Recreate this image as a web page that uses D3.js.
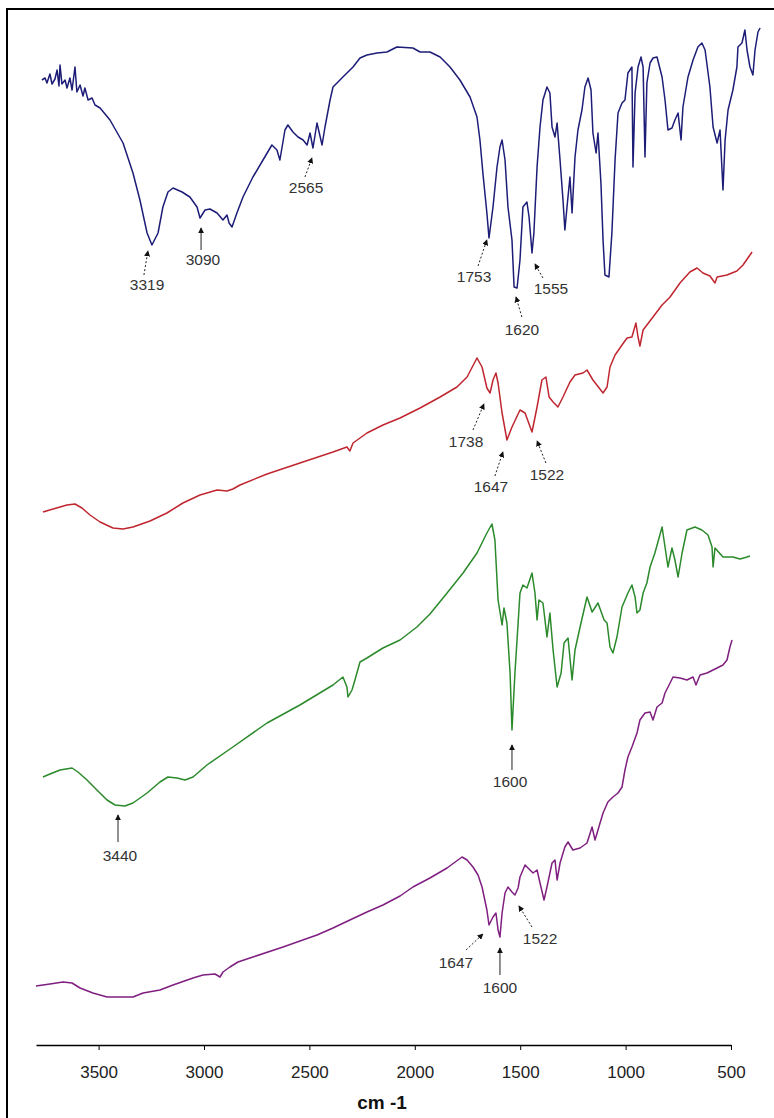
<!DOCTYPE html>
<html>
<head>
<meta charset="utf-8">
<script src="https://cdn.jsdelivr.net/npm/d3@7"></script>
<style>
  body { margin: 0; background: #fff; }
  text { font-family: "Liberation Sans", Arial, sans-serif; }
</style>
</head>
<body>
<script>
// IR spectra, wavenumber (cm-1) vs offset transmittance (arbitrary units)
const blueTrace = [
  [3769,96.5],[3754,96.7],[3745,96.2],[3731,97.1],[3721,96.1],[3707,96.6],[3697,97.5],[3688,95.9],
  [3683,98.0],[3674,96.1],[3659,96.5],[3650,95.7],[3636,96.7],[3626,95.5],[3612,97.8],[3603,95.3],
  [3588,96.0],[3574,94.9],[3565,95.7],[3550,94.5],[3531,94.7],[3517,94.0],[3493,93.7],[3446,92.5],
  [3384,90.2],[3337,87.2],[3304,84.5],[3270,81.2],[3247,80.0],[3218,81.2],[3195,83.8],[3171,85.3],
  [3147,85.7],[3104,85.3],[3067,84.8],[3033,83.8],[3019,82.7],[2995,83.5],[2972,83.6],[2938,83.2],
  [2910,82.5],[2891,83.0],[2881,82.2],[2867,81.8],[2844,83.2],[2815,84.8],[2768,86.8],[2720,88.5],
  [2678,90.0],[2654,89.5],[2640,88.5],[2616,91.5],[2602,92.0],[2578,91.3],[2554,90.8],[2530,90.5],
  [2511,90.0],[2497,91.2],[2483,89.7],[2464,92.2],[2440,90.0],[2426,91.8],[2402,94.5],[2388,95.8],
  [2341,96.8],[2293,97.8],[2260,98.7],[2227,99.0],[2179,99.2],[2132,99.3],[2085,99.8],[2009,99.7],
  [1975,99.3],[1928,99.3],[1880,98.8],[1833,97.8],[1786,96.5],[1738,94.8],[1705,92.8],[1691,90.5],
  [1677,87.2],[1658,83.2],[1648,80.7],[1629,83.8],[1610,87.8],[1596,89.8],[1586,90.5],[1572,88.5],
  [1558,83.8],[1539,80.5],[1529,75.8],[1515,75.7],[1501,78.5],[1487,83.8],[1468,84.3],[1458,82.8],
  [1444,79.2],[1435,81.2],[1420,87.8],[1406,91.8],[1392,94.5],[1373,95.8],[1359,95.2],[1349,91.8],
  [1335,90.8],[1325,92.2],[1311,88.5],[1297,84.5],[1288,81.5],[1278,83.8],[1264,86.8],[1254,83.2],
  [1240,88.8],[1226,91.5],[1207,93.5],[1193,95.8],[1178,96.7],[1164,95.5],[1155,91.2],[1140,89.2],
  [1131,91.2],[1117,86.2],[1107,80.5],[1098,77.0],[1079,76.8],[1065,81.2],[1050,88.5],[1036,93.2],
  [1017,94.2],[1003,94.5],[989,97.2],[970,97.8],[965,87.8],[955,95.2],[941,97.8],[927,98.8],
  [917,97.8],[908,88.8],[899,96.2],[884,98.2],[870,98.7],[851,98.8],[827,96.8],[813,94.5],
  [799,91.5],[780,91.7],[766,92.5],[751,93.2],[737,90.5],[728,93.8],[704,96.8],[680,98.5],
  [657,99.8],[638,100.2],[623,99.5],[600,95.8],[585,91.8],[566,90.2],[552,91.5],[538,85.5],
  [528,90.5],[514,93.5],[491,95.5],[472,97.8],[467,99.8],[448,100.2],[434,101.5],[424,99.5],
  [410,97.8],[396,97.0],[386,99.5],[372,101.3],[362,101.7]
];

const redTrace = [
  [3764,53.3],[3716,53.6],[3650,54.0],[3612,54.1],[3579,53.7],[3541,53.0],[3493,52.3],[3432,51.7],
  [3384,51.6],[3337,51.8],[3256,52.4],[3176,53.2],[3100,54.2],[3019,55.0],[2938,55.5],[2891,55.4],
  [2863,55.6],[2829,56.0],[2701,57.1],[2545,58.2],[2388,59.3],[2322,59.8],[2308,59.4],[2293,60.2],
  [2227,61.2],[2151,62.0],[2070,62.7],[1975,63.7],[1880,64.8],[1800,65.8],[1752,66.8],[1705,68.7],
  [1681,67.8],[1658,65.7],[1643,65.2],[1629,66.5],[1615,67.2],[1605,66.2],[1586,63.2],[1563,60.5],
  [1539,61.8],[1501,63.5],[1477,63.2],[1444,61.3],[1420,63.8],[1397,66.5],[1378,66.8],[1363,64.8],
  [1344,64.3],[1321,63.8],[1297,64.8],[1264,66.3],[1240,67.0],[1202,67.2],[1183,67.5],[1155,66.5],
  [1107,65.2],[1088,65.8],[1074,67.8],[1050,69.0],[1017,70.0],[993,70.7],[970,70.8],[951,72.2],
  [941,70.8],[932,69.9],[917,71.5],[870,72.8],[827,74.0],[789,74.8],[742,76.2],[695,77.3],
  [661,77.7],[633,77.2],[600,76.9],[576,76.2],[566,76.8],[519,77.0],[472,77.4],[443,78.0],
  [410,79.0],[400,79.3]
];

const greenTrace = [
  [3764,26.8],[3731,27.1],[3683,27.5],[3626,27.7],[3598,27.3],[3555,26.5],[3508,25.5],[3460,24.5],
  [3422,24.0],[3375,23.9],[3337,24.2],[3270,25.2],[3209,26.3],[3171,26.8],[3128,26.7],[3090,26.5],
  [3052,26.8],[2986,28.0],[2863,29.8],[2701,32.2],[2545,34.0],[2388,36.0],[2341,36.8],[2322,35.8],
  [2317,34.8],[2298,35.5],[2284,36.5],[2260,38.3],[2227,38.7],[2151,39.7],[2070,40.5],[1990,41.8],
  [1928,43.1],[1847,45.2],[1771,47.2],[1705,49.2],[1658,51.2],[1634,52.1],[1620,50.5],[1605,44.5],
  [1586,42.0],[1577,43.7],[1563,42.2],[1548,37.2],[1539,31.5],[1525,37.2],[1515,40.5],[1501,45.2],
  [1487,46.0],[1468,45.7],[1444,47.2],[1430,45.2],[1420,42.5],[1411,44.5],[1392,44.2],[1373,40.8],
  [1359,43.2],[1344,39.5],[1325,35.8],[1306,37.2],[1292,40.2],[1273,40.7],[1254,36.5],[1240,39.5],
  [1216,41.8],[1183,44.8],[1159,43.3],[1131,44.2],[1102,42.5],[1088,42.2],[1074,39.8],[1060,39.2],
  [1041,40.8],[1017,43.8],[989,45.2],[970,46.0],[955,44.8],[946,43.2],[932,43.5],[917,45.2],
  [899,46.2],[884,47.8],[861,49.2],[827,51.8],[799,47.8],[780,49.7],[766,48.5],[751,46.8],
  [732,49.2],[709,51.5],[671,51.8],[638,51.5],[609,51.0],[590,49.8],[585,47.8],[576,49.7],
  [538,48.8],[491,48.8],[457,48.6],[424,48.8],[410,48.9]
];

const purpleTrace = [
  [3797,5.9],[3731,6.1],[3669,6.3],[3626,6.2],[3588,5.7],[3527,5.2],[3460,4.8],[3337,4.8],
  [3289,5.2],[3209,5.5],[3147,6.0],[3052,6.7],[3005,7.0],[2948,7.1],[2924,6.8],[2910,7.3],
  [2877,7.8],[2839,8.3],[2768,8.8],[2625,9.8],[2464,11.0],[2388,11.7],[2308,12.5],[2227,13.3],
  [2151,14.0],[2070,14.9],[2009,15.8],[1928,16.7],[1847,17.7],[1776,18.8],[1752,18.5],[1724,17.8],
  [1700,17.0],[1681,15.8],[1658,13.5],[1648,12.0],[1629,12.8],[1615,13.2],[1605,11.5],[1596,10.8],
  [1586,13.2],[1572,15.2],[1558,15.8],[1539,15.3],[1525,15.0],[1510,15.7],[1501,16.8],[1477,18.0],
  [1463,17.7],[1439,17.2],[1420,17.5],[1406,16.2],[1387,14.5],[1373,15.8],[1349,18.2],[1335,18.5],
  [1325,16.5],[1311,18.2],[1288,19.8],[1273,20.3],[1250,19.5],[1216,19.7],[1183,20.2],[1159,21.8],
  [1145,20.5],[1131,21.5],[1107,23.2],[1084,24.3],[1060,24.8],[1036,25.2],[1017,25.8],[1003,27.5],
  [989,28.8],[970,29.8],[946,31.2],[932,32.5],[908,33.2],[884,33.3],[870,32.5],[851,33.8],
  [827,34.2],[813,35.2],[789,36.2],[775,36.8],[742,36.7],[709,36.5],[680,36.8],[666,36.0],
  [647,37.0],[614,37.2],[566,37.7],[538,38.0],[519,38.5],[505,39.8],[495,40.5]
];

const traceColors = ["#1d1d78", "#c0262f", "#2b8a2b", "#7f1f80"];

// peak labels: text, label (wavenumber, T), arrow tail, arrow head, dashed?
const peakLabels = ["3319","3090","2565","1753","1620","1555","1738","1647","1522","3440","1600","1647","1600","1522"];
const labelPos = [[3270,76.0],[3005,78.5],[2516,85.7],[1719,76.8],[1492,71.5],[1354,75.6],
  [1757,60.3],[1639,55.8],[1373,57.0],[3399,18.9],[1548,26.3],[1805,8.2],[1596,5.7],[1406,10.6]];
const arrowTail = [[3285,77.0],[3014,79.5],[2521,86.8],[1700,77.9],[1492,72.8],[1392,76.7],
  [1724,61.5],[1620,56.9],[1378,58.2],[3408,20.3],[1539,27.5],[1757,9.5],[1596,7.0],[1444,11.8]];
const arrowHead = [[3266,79.4],[3014,81.7],[2488,88.7],[1658,80.5],[1520,74.8],[1430,78.1],
  [1672,64.1],[1582,59.3],[1420,60.4],[3408,23.0],[1539,30.0],[1677,11.1],[1596,9.7],[1506,13.9]];
const arrowDashed = [true,false,true,true,true,true,true,true,true,false,false,true,false,true];

const xTicks = [3500, 3000, 2500, 2000, 1500, 1000, 500];

const width = 774;
const height = 1118;

const svg = d3.select("body")
  .append("svg")
  .attr("width", width)
  .attr("height", height);

svg.append("rect")
  .attr("width", width)
  .attr("height", height)
  .attr("fill", "#fff");

// frame (right and bottom edges fall outside the picture)
svg.append("rect")
  .attr("x", 7)
  .attr("y", 9)
  .attr("width", 820)
  .attr("height", 1200)
  .attr("fill", "none")
  .attr("stroke", "#000")
  .attr("stroke-width", 2);

const x = d3.scaleLinear()
  .domain([3797, 500])
  .range([36, 731]);

const y = d3.scaleLinear()
  .domain([0, 100])
  .range([1045, 45]);

const line = d3.line()
  .x(d => x(d[0]))
  .y(d => y(d[1]));

[blueTrace, redTrace, greenTrace, purpleTrace].forEach((trace, i) => {
  svg.append("path")
    .datum(trace)
    .attr("d", line)
    .attr("fill", "none")
    .attr("stroke", traceColors[i])
    .attr("stroke-width", 1.5)
    .attr("stroke-linejoin", "round");
});

// arrow head marker
svg.append("defs").append("marker")
  .attr("id", "head")
  .attr("viewBox", "0 0 8 8")
  .attr("refX", 7)
  .attr("refY", 4)
  .attr("markerWidth", 6)
  .attr("markerHeight", 6)
  .attr("markerUnits", "userSpaceOnUse")
  .attr("orient", "auto")
  .append("path")
  .attr("d", "M0,0L8,4L0,8z")
  .attr("fill", "#111");

const ann = svg.append("g");

ann.selectAll("line")
  .data(peakLabels)
  .enter()
  .append("line")
  .attr("x1", (d, i) => x(arrowTail[i][0]))
  .attr("y1", (d, i) => y(arrowTail[i][1]))
  .attr("x2", (d, i) => x(arrowHead[i][0]))
  .attr("y2", (d, i) => y(arrowHead[i][1]))
  .attr("stroke", "#222")
  .attr("stroke-width", 1)
  .attr("stroke-dasharray", (d, i) => arrowDashed[i] ? "2,2" : null)
  .attr("marker-end", "url(#head)");

ann.selectAll("text")
  .data(peakLabels)
  .enter()
  .append("text")
  .attr("x", (d, i) => x(labelPos[i][0]))
  .attr("y", (d, i) => y(labelPos[i][1]))
  .attr("dy", "0.35em")
  .attr("text-anchor", "middle")
  .attr("font-size", 15.5)
  .attr("fill", "#333")
  .text(d => d);

// x axis
const xAxis = d3.axisBottom(x)
  .tickValues(xTicks)
  .tickFormat(d3.format("d"))
  .tickSize(5)
  .tickSizeOuter(0)
  .tickPadding(16);

const axisG = svg.append("g")
  .attr("transform", "translate(0,1045)")
  .call(xAxis);

axisG.select(".domain").attr("stroke", "#000").attr("stroke-width", 1.5);
axisG.selectAll(".tick line").attr("stroke", "#000");
axisG.selectAll(".tick text")
  .attr("font-family", "'Liberation Sans', Arial, sans-serif")
  .attr("font-size", 17)
  .attr("fill", "#222");

svg.append("text")
  .attr("x", 382)
  .attr("y", 1109)
  .attr("text-anchor", "middle")
  .attr("font-size", 19)
  .attr("font-weight", "bold")
  .attr("fill", "#111")
  .text("cm -1");
</script>
</body>
</html>
